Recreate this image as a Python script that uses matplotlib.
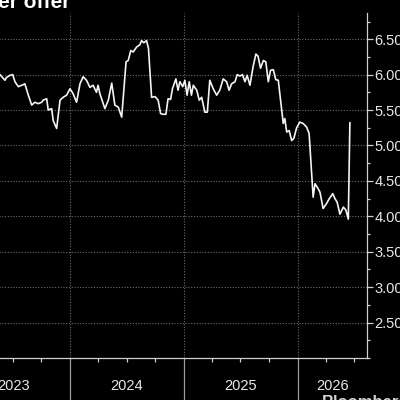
import matplotlib
matplotlib.use("Agg")
import matplotlib.pyplot as plt
import matplotlib.dates as mdates
from matplotlib.ticker import MultipleLocator, FixedLocator
import numpy as np
import pandas as pd

plt.rcParams['font.family'] = ['Liberation Sans', 'DejaVu Sans']

dates = [
    "2023-05-21", "2023-05-27", "2023-06-06", "2023-06-11", "2023-06-22", "2023-07-01",
    "2023-07-08", "2023-07-19", "2023-07-30", "2023-08-09", "2023-08-20", "2023-08-31",
    "2023-09-10", "2023-09-21", "2023-10-02", "2023-10-07", "2023-10-18", "2023-10-23",
    "2023-11-03", "2023-11-08", "2023-11-19", "2023-11-30", "2023-12-10", "2023-12-21",
    "2024-01-01", "2024-01-11", "2024-01-22", "2024-02-02", "2024-02-12", "2024-02-23",
    "2024-03-05", "2024-03-15", "2024-03-26", "2024-03-31", "2024-04-06", "2024-04-22",
    "2024-05-03", "2024-05-14", "2024-05-24", "2024-06-04", "2024-06-15", "2024-06-29",
    "2024-07-06", "2024-07-14", "2024-07-22", "2024-08-02", "2024-08-12", "2024-08-18",
    "2024-08-25", "2024-09-03", "2024-09-09", "2024-09-19", "2024-09-30", "2024-10-10",
    "2024-10-18", "2024-10-26", "2024-11-04", "2024-11-11", "2024-11-19", "2024-11-25",
    "2024-12-06", "2024-12-13", "2024-12-19", "2024-12-28",
    "2025-01-04", "2025-01-11", "2025-01-18", "2025-01-25", "2025-01-31", "2025-02-11",
    "2025-02-19", "2025-02-27", "2025-03-09", "2025-03-17", "2025-03-25", "2025-04-05",
    "2025-04-16", "2025-04-26", "2025-05-07", "2025-05-18", "2025-05-26", "2025-06-03",
    "2025-06-14", "2025-06-21", "2025-06-30", "2025-07-08", "2025-07-16", "2025-07-23",
    "2025-08-01", "2025-08-11", "2025-08-20", "2025-08-27", "2025-09-04", "2025-09-13",
    "2025-09-21", "2025-09-29", "2025-10-06", "2025-10-15", "2025-10-23", "2025-10-31",
    "2025-11-11", "2025-11-16", "2025-11-21", "2025-11-27", "2025-12-05", "2025-12-13",
    "2025-12-20", "2025-12-29",
    "2026-01-08", "2026-01-19", "2026-01-30", "2026-02-07", "2026-02-20", "2026-02-26",
    "2026-03-08", "2026-03-14", "2026-03-24", "2026-04-04", "2026-04-13", "2026-04-24",
    "2026-05-01", "2026-05-08", "2026-05-17", "2026-05-28", "2026-06-05", "2026-06-13",
    "2026-06-18",
]
values = [
    6.00, 5.97, 5.92, 5.96, 5.99, 6.00,
    5.90, 5.83, 5.85, 5.87, 5.71, 5.57,
    5.61, 5.59, 5.61, 5.64, 5.66, 5.50,
    5.52, 5.35, 5.24, 5.64, 5.68, 5.71,
    5.80, 5.73, 5.61, 5.87, 5.97, 5.92,
    5.82, 5.85, 5.75, 5.85, 5.73, 5.52,
    5.64, 5.88, 5.57, 5.54, 5.40, 6.18,
    6.20, 6.34, 6.32, 6.39, 6.42, 6.48,
    6.45, 6.48, 6.37, 5.68, 5.69, 5.64,
    5.45, 5.44, 5.44, 5.66, 5.65, 5.80,
    5.94, 5.78, 5.90, 5.83,
    5.92, 5.71, 5.90, 5.71, 5.85, 5.78,
    5.64, 5.68, 5.47, 5.47, 5.92, 5.80,
    5.71, 5.78, 5.94, 5.90, 5.78, 5.87,
    5.90, 6.00, 5.98, 6.00, 5.90, 5.99,
    5.85, 6.11, 6.29, 6.26, 6.09, 6.20,
    6.18, 5.90, 6.06, 6.07, 5.93, 5.92,
    5.50, 5.31, 5.38, 5.19, 5.21, 5.07,
    5.10, 5.25,
    5.33, 5.31, 5.26, 5.17, 4.27, 4.46,
    4.39, 4.34, 4.11, 4.18, 4.25, 4.32,
    4.25, 4.20, 4.03, 4.13, 4.09, 3.96,
    5.32,
]
year_labels = ["2023", "2024", "2025", "2026"]
y_major = [2.5, 3.0, 3.5, 4.0, 4.5, 5.0, 5.5, 6.0, 6.5]
title_text = "er offer"
source_text = "Bloomberg"

x = pd.to_datetime(dates)
xmin = pd.Timestamp("2023-01-01")
xmax = pd.Timestamp("2026-08-12")

fig = plt.figure(figsize=(4, 4), dpi=100, facecolor="black")
ax = fig.add_axes([-0.109, 0.105, 0.9175 + 0.109, 0.8625], facecolor="black")

grid_c = "#6a6a6a"
txt_c = "#e8e8e8"
spine_c = "#cfcfcf"

ax.plot(x, values, color="#f4f4f4", lw=1.2, solid_joinstyle="round", zorder=3)

ax.set_xlim(xmin, xmax)
ax.set_ylim(2.0, 6.87)

for s in ["top", "left"]:
    ax.spines[s].set_visible(False)
ax.spines["right"].set_color(spine_c)
ax.spines["bottom"].set_color(spine_c)
ax.spines["right"].set_linewidth(0.9)
ax.spines["bottom"].set_linewidth(0.9)

ax.yaxis.tick_right()
ax.yaxis.set_major_locator(FixedLocator(y_major))
ax.yaxis.set_minor_locator(MultipleLocator(0.25))
ax.set_yticklabels([f"{v:.2f}" for v in y_major])
ax.tick_params(axis="y", which="major", length=4, width=0.9, color=spine_c,
               labelcolor=txt_c, labelsize=10.5, pad=1.5)
ax.tick_params(axis="y", which="minor", length=2.5, width=0.9, color=spine_c)

year_starts = [pd.Timestamp(f"{y}-01-01") for y in [2024, 2025, 2026]]
ax.xaxis.set_major_locator(FixedLocator(mdates.date2num(year_starts)))
ax.xaxis.set_minor_locator(mdates.MonthLocator(bymonth=[4, 7, 10]))
ax.set_xticklabels([])
ax.tick_params(axis="x", which="major", length=36, width=0.9, color="#9a9a9a")
ax.tick_params(axis="x", which="minor", length=3, width=0.9, color=spine_c)

for lab in year_labels:
    y0 = max(pd.Timestamp(f"{lab}-01-01"), xmin)
    y1 = min(pd.Timestamp(f"{int(lab)+1}-01-01"), xmax)
    mid = y0 + (y1 - y0) / 2
    ax.text(mdates.date2num(mid), -0.08, lab, transform=ax.get_xaxis_transform(),
            ha="center", va="center", color=txt_c, fontsize=10.5, clip_on=False)

ax.grid(True, which="major", axis="both", color=grid_c, linestyle=(0, (1, 1.5)), lw=0.8)
ax.set_axisbelow(True)

fig.text(-0.005, 1 - 7.5 / 400, title_text, color="white", fontsize=15,
         fontweight="bold", ha="left", va="baseline")
fig.text(322 / 400, 1 - 395 / 400, source_text, color="#d0d0d0", fontsize=12,
         fontweight="bold", ha="left", va="top")

fig.savefig("out.png", dpi=100, facecolor="black")
